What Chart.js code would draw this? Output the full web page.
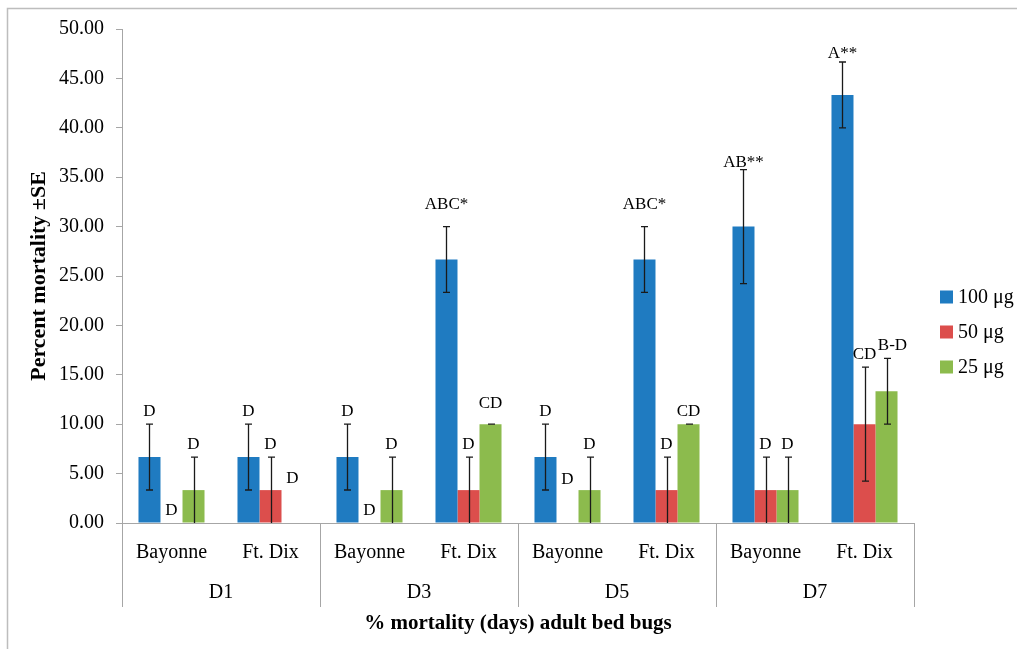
<!DOCTYPE html>
<html><head><meta charset="utf-8">
<script src="https://cdn.jsdelivr.net/npm/chart.js@4.4.0/dist/chart.umd.min.js"></script>
<style>html,body{margin:0;padding:0;background:#fff;}#wrap{position:relative;width:1017px;height:649px;}canvas{display:block;}</style>
</head><body><div id="wrap"><canvas id="c" width="1017" height="649"></canvas></div>
<script>
// ---- data ----
const sites = ['Bayonne', 'Ft. Dix'];
const days = ['D1', 'D3', 'D5', 'D7'];
const seriesNames = ['100 μg', '50 μg', '25 μg'];
const mort100 = [6.67, 6.67, 6.67, 26.67, 6.67, 26.67, 30.00, 43.33];
const mort50  = [0.00, 3.33, 0.00, 3.33, 0.00, 3.33, 3.33, 10.00];
const mort25  = [3.33, 0.00, 3.33, 10.00, 3.33, 10.00, 3.33, 13.33];
const se100 = [3.33, 3.33, 3.33, 3.33, 3.33, 3.33, 5.77, 3.33];
const se50  = [0.00, 3.33, 0.00, 3.33, 0.00, 3.33, 3.33, 5.77];
const se25  = [3.33, 0.00, 3.33, 0.00, 3.33, 0.00, 3.33, 3.33];
const sig100 = ['D', 'D', 'D', 'ABC*', 'D', 'ABC*', 'AB**', 'A**'];
const sig50  = ['D', 'D', 'D', 'D', 'D', 'D', 'D', 'CD'];
const sig25  = ['D', 'D', 'D', 'CD', 'D', 'CD', 'D', 'B-D'];
const yTickValues = [0, 5, 10, 15, 20, 25, 30, 35, 40, 45, 50];
const yTitle = 'Percent mortality ±SE';
const xTitle = '% mortality (days) adult bed bugs';

const categories = days.flatMap(() => sites);
const colors = ['#1f7bc1', '#dc4e4c', '#8cbb4d'];
const SERIF = "'Liberation Serif', 'Times New Roman', serif";

// label nudges (px) keyed "dataset-index"
const labelNudge = {
  '0-3': [0, -10], '0-5': [0, -10], '0-6': [0, 5], '0-7': [0, 4],
  '2-1': [0, -32], '1-4': [0, -31], '2-3': [0, -8], '2-7': [6, 0]
};

const framePlugin = {
  id: 'frame',
  beforeDraw(chart) {
    const ctx = chart.ctx;
    ctx.save();
    ctx.fillStyle = '#fff';
    ctx.fillRect(0, 0, chart.width, chart.height);
    ctx.strokeStyle = '#bdbdbd';
    ctx.lineWidth = 1.5;
    ctx.strokeRect(7.5, 8.5, chart.width + 50, chart.height + 50);
    ctx.restore();
  }
};

const errPlugin = {
  id: 'errs',
  afterDatasetsDraw(chart) {
    const ctx = chart.ctx;
    const ys = chart.scales.y;
    const errs = [se100, se50, se25];
    const sigs = [sig100, sig50, sig25];
    ctx.save();
    chart.data.datasets.forEach((ds, di) => {
      const meta = chart.getDatasetMeta(di);
      meta.data.forEach((bar, i) => {
        const v = ds.data[i], e = errs[di][i];
        const lo = Math.max(0, v - e);
        const yt = ys.getPixelForValue(v + e);
        const yb = ys.getPixelForValue(lo);
        const x = Math.round(bar.x) + 0.5;
        ctx.strokeStyle = '#1a1a1a';
        ctx.lineWidth = 1.3;
        ctx.beginPath();
        if (v + e > 0) {
          ctx.moveTo(x, yt); ctx.lineTo(x, yb);
          ctx.moveTo(x - 3.5, yt); ctx.lineTo(x + 3.5, yt);
          if (lo > 0) { ctx.moveTo(x - 3.5, yb); ctx.lineTo(x + 3.5, yb); }
        }
        ctx.stroke();
        const nd = labelNudge[di + '-' + i] || [0, 0];
        ctx.fillStyle = '#000';
        ctx.font = '17px ' + SERIF;
        ctx.textAlign = 'center';
        ctx.textBaseline = 'alphabetic';
        ctx.fillText(sigs[di][i], bar.x + nd[0], yt - 8 + nd[1]);
      });
    });
    ctx.restore();
  }
};

const groupPlugin = {
  id: 'groups',
  afterDraw(chart) {
    const ctx = chart.ctx;
    const xs = chart.scales.x, x2 = chart.scales.x2;
    const ca = chart.chartArea;
    const per = sites.length;
    ctx.save();
    ctx.strokeStyle = '#a6a6a6';
    ctx.lineWidth = 1;
    for (let g = 0; g <= days.length; g++) {
      const idx = g * per;
      let px;
      if (g === 0) px = ca.left;
      else if (g === days.length) px = ca.right;
      else px = (xs.getPixelForValue(idx - 1) + xs.getPixelForValue(idx)) / 2;
      px = Math.round(px) + 0.5;
      ctx.beginPath();
      ctx.moveTo(px, ca.bottom);
      ctx.lineTo(px, x2.top + 44);
      ctx.stroke();
    }
    // legend
    ctx.font = '20px ' + SERIF;
    ctx.textAlign = 'left';
    ctx.textBaseline = 'middle';
    chart.data.datasets.forEach((ds, i) => {
      const cy = ca.top + 268 + i * 35;
      const lx = ca.right + 26;
      ctx.fillStyle = ds.backgroundColor;
      ctx.fillRect(lx, cy - 6.5, 13, 13);
      ctx.fillStyle = '#000';
      ctx.fillText(ds.label, lx + 18, cy + 1);
    });
    ctx.restore();
  }
};

new Chart(document.getElementById('c'), {
  type: 'bar',
  data: {
    labels: categories,
    datasets: [
      { label: seriesNames[0], data: mort100, backgroundColor: colors[0] },
      { label: seriesNames[1], data: mort50, backgroundColor: colors[1] },
      { label: seriesNames[2], data: mort25, backgroundColor: colors[2] }
    ]
  },
  options: {
    responsive: false,
    animation: false,
    devicePixelRatio: 1,
    datasets: { bar: { barPercentage: 1, categoryPercentage: 0.667, borderWidth: 0 } },
    layout: { padding: { top: 29, right: 103, left: 0, bottom: 0 } },
    plugins: { legend: { display: false }, tooltip: { enabled: false } },
    scales: {
      x: {
        type: 'category',
        position: 'bottom',
        weight: 0,
        grid: { display: false, drawTicks: false },
        border: { display: true, color: '#a6a6a6', width: 1 },
        ticks: { color: '#000', font: { family: SERIF, size: 20 }, padding: 18, maxRotation: 0, autoSkip: false },
        afterFit(s) { s.height = 40; }
      },
      x2: {
        type: 'category',
        labels: days,
        position: 'bottom',
        weight: 1,
        offset: true,
        grid: { display: false, drawTicks: false },
        border: { display: false },
        ticks: { color: '#000', font: { family: SERIF, size: 20 }, padding: 18, maxRotation: 0, autoSkip: false },
        title: { display: true, text: xTitle, color: '#000', font: { family: SERIF, size: 21, weight: 'bold' }, padding: { top: 0, bottom: 13 } },
        afterFit(s) { s.height = 86; }
      },
      y: {
        min: 0, max: 50,
        afterBuildTicks(s) { s.ticks = yTickValues.map(v => ({ value: v })); },
        grid: { drawOnChartArea: false, drawTicks: true, tickLength: 6, color: '#a6a6a6' },
        border: { display: true, color: '#a6a6a6', width: 1 },
        ticks: { color: '#000', font: { family: SERIF, size: 20 }, padding: 12, callback: v => Number(v).toFixed(2) },
        title: { display: true, text: yTitle, color: '#000', font: { family: SERIF, size: 22, weight: 'bold' }, padding: { top: 26, bottom: 0 } },
        afterFit(s) { s.width = 122; }
      }
    }
  },
  plugins: [framePlugin, errPlugin, groupPlugin]
});
</script></body></html>
